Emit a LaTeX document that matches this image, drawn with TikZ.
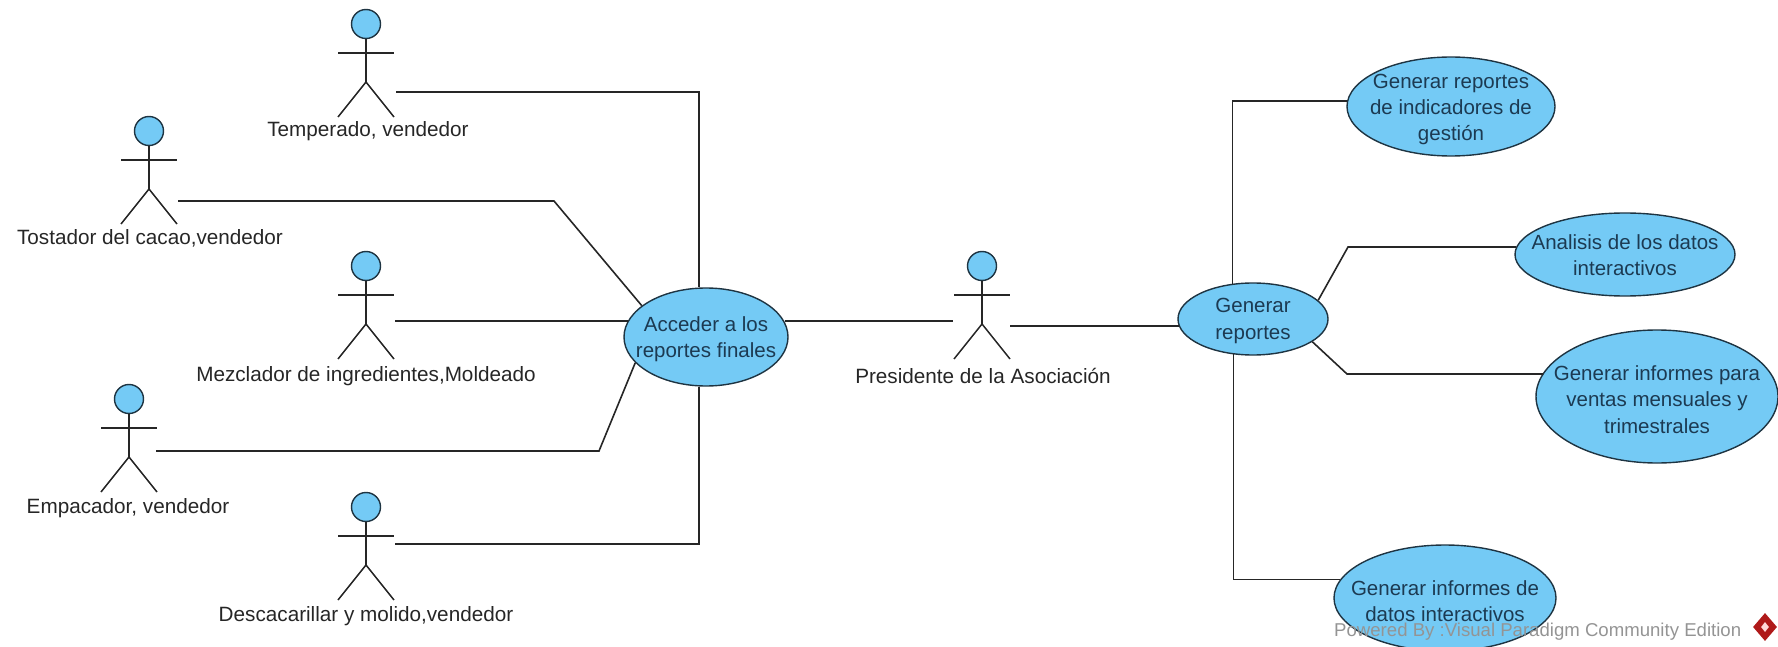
\documentclass[tikz,border=0pt]{standalone}
\usepackage{fontspec}
\setmainfont{Liberation Sans}
\usetikzlibrary{shapes.geometric,calc}
\definecolor{ucfill}{HTML}{74CAF5}
\definecolor{ucline}{HTML}{1E3442}
\definecolor{ink}{HTML}{262626}
\definecolor{uctext}{HTML}{1C3A52}
\tikzset{
  usecase/.style={ellipse,draw=ucline,line width=1.4pt,fill=ucfill,inner sep=0pt},
  usetext/.style={align=center,text=uctext,inner sep=0pt,font=\fontsize{20.5}{26.3}\selectfont},
  head/.style={circle,draw=ucline,line width=1.4pt,fill=ucfill,inner sep=0pt,minimum size=29pt},
  limb/.style={draw=ink,line width=1.5pt},
  conn/.style={draw=ink,line width=1.6pt},
  actorlabel/.style={text=ink,font=\fontsize{20.7}{24}\selectfont,inner sep=0pt},
  wm/.style={text=black!42,font=\fontsize{18.6}{22}\selectfont,inner sep=0pt,anchor=west}
}
% #1 name, #2 x, #3 y (head centre), #4 label x, #5 label y, #6 text
\newcommand{\stickman}[6]{%
  \node[head] (#1-head) at (#2,#3) {};
  \coordinate (#1-hip) at (#2,#3+58);
  \coordinate (#1-al) at (#2-28,#3+29);
  \coordinate (#1-ar) at (#2+28,#3+29);
  \coordinate (#1-ll) at (#2-28,#3+93);
  \coordinate (#1-lr) at (#2+28,#3+93);
  \draw[limb] (#1-head.south) -- (#1-hip);
  \draw[limb] (#1-al) -- (#1-ar);
  \draw[limb] (#1-ll) -- (#1-hip) -- (#1-lr);
  \node[actorlabel] (#1-label) at (#4,#5) {#6};
}
% #1 name, #2 cx, #3 cy, #4 w, #5 h, #6 text y, #7 text
\newcommand{\ucoval}[7]{%
  \node[usecase,minimum width=#4pt,minimum height=#5pt] (#1) at (#2,#3) {};
  \node[usetext] (#1-text) at (#2,#6) {#7};
}
\begin{document}
\begin{tikzpicture}[x=1pt,y=-1pt]
\useasboundingbox (0,0) rectangle (1778,647);
\stickman{tem}{366}{24}{368}{131}{Temperado, vendedor}
\stickman{tos}{149}{131}{150}{238}{Tostador del cacao,vendedor}
\stickman{mez}{366}{266}{366}{376}{Mezclador de ingredientes,Moldeado}
\stickman{emp}{129}{399}{128}{508}{Empacador, vendedor}
\stickman{des}{366}{507}{366}{616}{Descacarillar y molido,vendedor}
\stickman{pre}{982}{266}{983}{376}{Presidente de la Asociación}

\ucoval{acc}{706}{337}{164}{98}{339.5}{Acceder a los\\reportes finales}
\ucoval{gen}{1253}{319}{150}{72}{321}{Generar\\reportes}
\ucoval{ind}{1451}{106.5}{208}{99}{109.5}{Generar reportes\\de indicadores de\\gestión}
\ucoval{ana}{1625}{254.5}{220}{83}{255}{Analisis de los datos\\interactivos}
\ucoval{inf}{1657}{396.5}{242}{133}{399.5}{Generar informes para\\ventas mensuales y\\trimestrales}
\ucoval{dat}{1445}{598}{222}{106}{601}{Generar informes de\\datos interactivos}

\coordinate (tem-c) at (396,92);
\coordinate (tos-c) at (178,201);
\coordinate (mez-c) at (395,321);
\coordinate (emp-c) at (156,451);
\coordinate (des-c) at (395,544);
\coordinate (pre-l) at (953,321);
\coordinate (pre-r) at (1010,326);
\coordinate (tos-b) at (554,201);
\coordinate (emp-b) at (599,451);
\coordinate (ana-b) at (1348,247);
\coordinate (inf-b) at (1347,374);

\draw[conn] (tem-c) -| (acc.98);
\draw[conn] (tos-c) -- (tos-b) -- (acc.154);
\draw[conn] (mez-c) -- (mez-c -| acc.168.3);
\draw[conn] (emp-c) -- (emp-b) -- (acc.200);
\draw[conn] (des-c) -| (acc.262);
\draw[conn] (pre-l -| acc.11.7) -- (pre-l);
\draw[conn] (pre-r) -- (pre-r -| gen.185.4);
\draw[conn] (gen.120) |- (ind.177);
\draw[conn] (gen.241.4) |- (dat.170.8);
\draw[conn] (gen.16.9) -- (ana-b) -- (ana-b -| ana.176);
\draw[conn] (gen.-21.2) -- (inf-b) -- (inf-b -| inf.168.8);

\node[wm] (mark) at (1334,632) {Powered By :Visual Paradigm Community Edition};
\node[diamond,fill=red!65!black!90,inner sep=0pt,minimum width=24pt,minimum height=28pt] (logo) at (1765,627) {};
\node[diamond,fill=white!85!red,inner sep=0pt,minimum width=8pt,minimum height=10pt] (logoin) at (1765,627) {};
\end{tikzpicture}
\end{document}
